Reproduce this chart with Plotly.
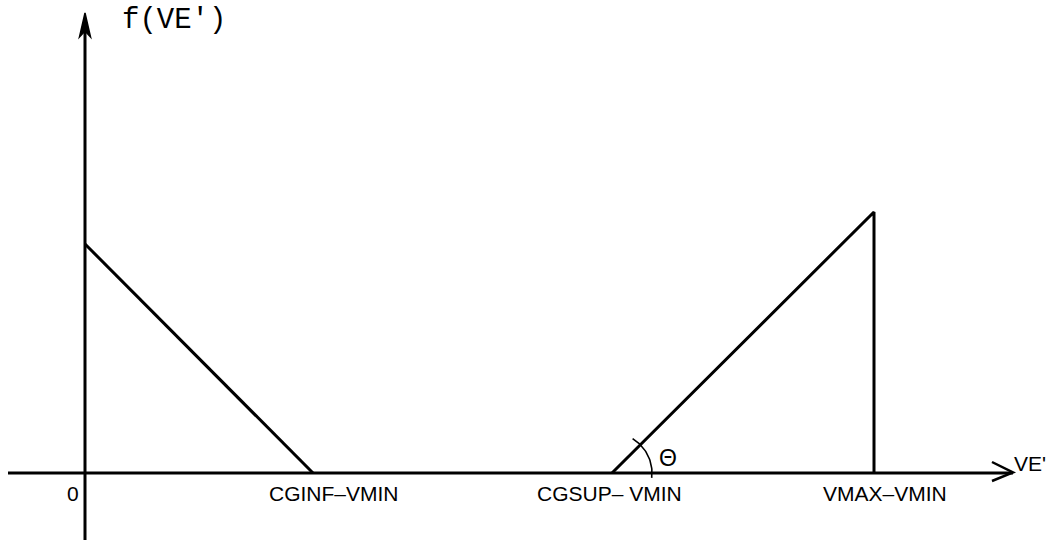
import numpy as np
import plotly.graph_objects as go

# Abscissa breakpoints of the density f(VE') and their labels
ve_points = [0.0, 2.28, 5.27, 7.89]
tick_labels = ["0", "CGINF\u2013VMIN", "CGSUP\u2013 VMIN", "VMAX\u2013VMIN"]
# Density heights at VE'=0 and at VE'=VMAX-VMIN
f_left = 2.29
f_right = 2.61

x0, x_inf, x_sup, x_max = ve_points

fig = go.Figure()

line_style = dict(color="black", width=3)

# Decreasing branch from the origin to CGINF-VMIN
fig.add_trace(go.Scatter(x=[x0, x_inf], y=[f_left, 0], mode="lines",
                         line=line_style, hoverinfo="skip"))
# Increasing branch from CGSUP-VMIN up to VMAX-VMIN, then drop to zero
fig.add_trace(go.Scatter(x=[x_sup, x_max, x_max], y=[0, f_right, 0], mode="lines",
                         line=line_style, hoverinfo="skip"))

# Angle arc theta at CGSUP-VMIN
r = 0.40
ang = np.radians(np.linspace(59, -7, 40))
fig.add_trace(go.Scatter(x=x_sup + r * np.cos(ang), y=r * np.sin(ang), mode="lines",
                         line=dict(color="black", width=1.6), hoverinfo="skip"))

shapes = [
    # horizontal axis
    dict(type="line", x0=-0.77, x1=9.28, y0=0, y1=0, line=dict(color="black", width=3)),
    # vertical axis
    dict(type="line", x0=0, x1=0, y0=-0.67, y1=4.52, line=dict(color="black", width=3)),
    # arrowhead on vertical axis
    dict(type="path", path="M -0.055 4.36 L 0 4.60 L 0.055 4.36 L 0 4.42 Z",
         fillcolor="black", line=dict(color="black", width=1.5)),
    # open arrowhead on horizontal axis
    dict(type="path", path="M 9.07 0.11 L 9.28 0.005 L 9.07 -0.08",
         line=dict(color="black", width=2.5)),
]

annotations = [
    dict(x=0.35, y=4.53, text="f(VE')", showarrow=False, xanchor="left", yanchor="middle",
         font=dict(family="Liberation Mono", size=29, color="black")),
    dict(x=9.27, y=0.10, text="VE'", showarrow=False, xanchor="left", yanchor="middle",
         font=dict(family="Liberation Sans", size=21, color="black")),
    dict(x=x_sup + 0.56, y=0.15, text="\u0398", showarrow=False, xanchor="center", yanchor="middle",
         font=dict(family="Liberation Sans", size=23, color="black")),
]

label_shift = [-12, 21, -3, 11]
for xv, lab, sh in zip(ve_points, tick_labels, label_shift):
    annotations.append(dict(x=xv, y=-0.20, text=lab, showarrow=False, xanchor="center",
                            yanchor="middle", xshift=sh,
                            font=dict(family="Liberation Sans", size=21, color="black")))

fig.update_layout(
    width=1058, height=543,
    margin=dict(l=0, r=0, t=0, b=0),
    paper_bgcolor="white", plot_bgcolor="white",
    showlegend=False,
    xaxis=dict(range=[-0.85, 9.73], visible=False, fixedrange=True),
    yaxis=dict(range=[-0.70, 4.73], visible=False, fixedrange=True),
    shapes=shapes,
    annotations=annotations,
)

fig.write_html("out.html")
